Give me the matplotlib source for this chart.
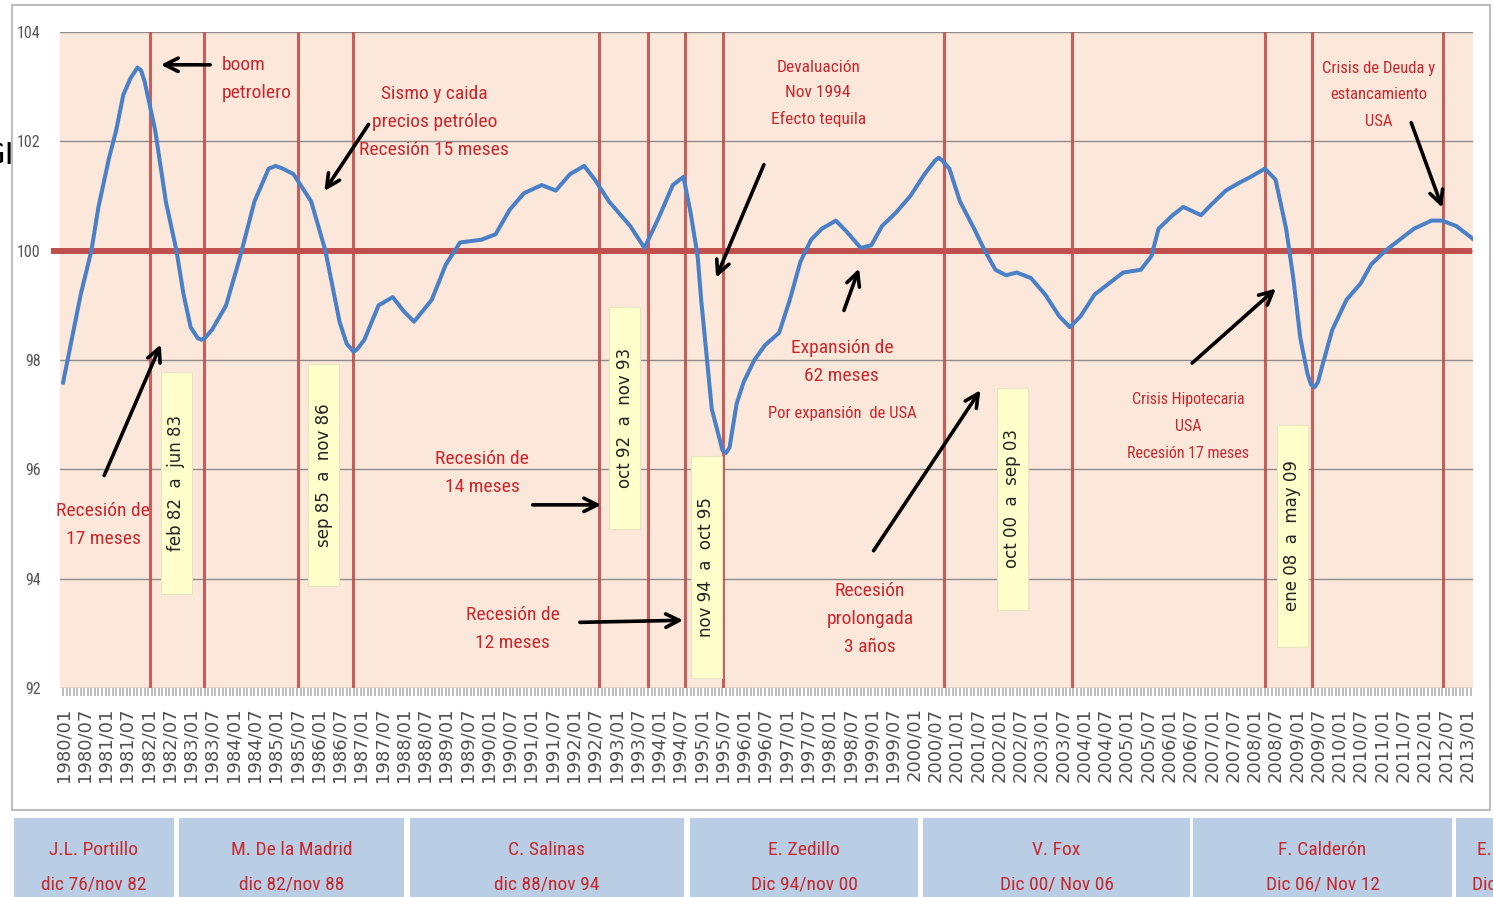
import numpy as np
import matplotlib
matplotlib.use('Agg')
import matplotlib.pyplot as plt
from matplotlib.patches import Rectangle

# Indice mensual, meses contados desde 1980/01
months = [0, 3, 5, 8, 10, 13, 15, 17, 19, 21, 22, 23, 26, 29, 32, 34, 36, 38, 39, 40,
          42, 46, 50, 54, 58, 60, 62, 65, 70, 74, 78, 80, 82, 83, 85, 89, 93, 96, 99, 104,
          108, 112, 118, 122, 126, 130, 135, 139, 143, 147, 150, 154, 160, 164, 168, 172, 175, 177, 179, 180,
          183, 185, 186, 187, 188, 190, 192, 195, 198, 202, 205, 208, 211, 214, 218, 221, 225, 228, 231, 235,
          239, 243, 246, 247, 248, 250, 253, 257, 260, 263, 266, 269, 273, 277, 281, 284, 287, 291, 295, 299,
          304, 307, 309, 313, 316, 321, 324, 328, 332, 335, 339, 342, 345, 347, 349, 351, 352, 353, 354, 355,
          358, 362, 366, 369, 373, 377, 381, 386, 389, 393, 396, 398]
values = [97.58, 98.55, 99.2, 100.0, 100.8, 101.7, 102.2, 102.85, 103.15, 103.35, 103.3, 103.1, 102.2, 100.9, 100.0, 99.2, 98.6, 98.4, 98.37, 98.4,
          98.55, 99.0, 99.9, 100.9, 101.5, 101.55, 101.5, 101.4, 100.9, 100.0, 98.7, 98.3, 98.15, 98.2, 98.37, 99.0, 99.15, 98.9, 98.7, 99.1,
          99.75, 100.15, 100.2, 100.3, 100.75, 101.05, 101.2, 101.1, 101.4, 101.55, 101.3, 100.9, 100.45, 100.05, 100.6, 101.2, 101.35, 100.7, 99.9, 99.1,
          97.1, 96.6, 96.35, 96.3, 96.4, 97.2, 97.6, 98.0, 98.27, 98.5, 99.1, 99.8, 100.2, 100.4, 100.55, 100.35, 100.05, 100.1, 100.45, 100.7,
          101.0, 101.4, 101.65, 101.7, 101.65, 101.5, 100.9, 100.4, 100.0, 99.65, 99.55, 99.6, 99.5, 99.2, 98.8, 98.6, 98.8, 99.2, 99.4, 99.6,
          99.65, 99.9, 100.4, 100.65, 100.8, 100.65, 100.85, 101.1, 101.25, 101.35, 101.5, 101.3, 100.4, 99.5, 98.4, 97.75, 97.55, 97.5, 97.6, 97.85,
          98.55, 99.1, 99.4, 99.75, 100.0, 100.2, 100.4, 100.55, 100.55, 100.45, 100.3, 100.2]

# lineas verticales (inicio y fin de recesiones), en meses desde 1980/01
cycle_lines = [24.5, 39.8, 66.3, 81.8, 151.2, 165, 175.5, 186.2, 248.5, 284.6, 339.1, 352.3, 389.3]

# periodos de recesion (cajas amarillas)
periods = ['feb 82  a  jun 83', 'sep 85  a  nov 86', 'oct 92  a  nov 93',
           'nov 94  a  oct 95', 'oct 00  a  sep 03', 'ene 08  a  may 09']
period_pos = [(31.9, 95.75), (73.6, 95.9), (158.5, 96.94), (181.4, 94.21), (267.7, 95.46), (346.7, 94.78)]

presidents = ['J.L. Portillo', 'M. De la Madrid', 'C. Salinas', 'E. Zedillo', 'V. Fox', 'F. Calderón', 'E. Peña Nieto']
terms = ['dic 76/nov 82', 'dic 82/nov 88', 'dic 88/nov 94', 'Dic 94/nov 00', 'Dic 00/ Nov 06', 'Dic 06/ Nov 12', 'Dic 12/ Nov 18']

W, H = 1493, 897
RED = '#C0504D'
TXT = '#C8282D'
NARROW = ['Roboto Condensed', 'Liberation Sans', 'DejaVu Sans']

def fx(px):
    return px / W

def fy(py):
    return 1 - py / H

fig = plt.figure(figsize=(W / 100, H / 100), dpi=100)

# marco del grafico
fig.patches.append(Rectangle((fx(12), fy(810)), fx(1490) - fx(12), fy(5) - fy(810),
                             transform=fig.transFigure, facecolor='white',
                             edgecolor='#BDBDBD', lw=1.5, zorder=-2))

ax = fig.add_axes([fx(60), fy(688), fx(1473) - fx(60), fy(32) - fy(688)])
ax.set_facecolor('#FCE8DA')
ax.set_xlim(-0.85, 397.7)
ax.set_ylim(92, 104)

ax.set_yticks(range(92, 105, 2))
ax.yaxis.grid(True, color='#8C8C8C', lw=1.0)
ax.set_axisbelow(True)
ax.tick_params(axis='y', length=0, pad=14, labelsize=11.5, labelcolor='#555555')
for lab in ax.get_yticklabels():
    lab.set_family(NARROW)

major = list(range(0, 397, 6))
ax.set_xticks(major)
ax.set_xticklabels([f"{1980 + m // 12}/{m % 12 + 1:02d}" for m in major],
                   rotation=90, fontsize=13, color='#505050')
ax.set_xticks(range(0, 398), minor=True)
ax.tick_params(axis='x', which='both', length=6, width=1.2, color='#B0B0B0', pad=8)
for s in ax.spines.values():
    s.set_visible(False)

ax.axhline(100, xmin=-0.004, xmax=0.997, color=RED, lw=4.3, clip_on=False, zorder=3)
for m in cycle_lines:
    ax.axvline(m, color=RED, lw=2.2, alpha=0.9, zorder=2)

ax.plot(months, values, color='#4A80C8', lw=2.9, solid_joinstyle='round',
        solid_capstyle='round', zorder=4)

# cajas amarillas con los periodos
bw, bh = 8.75, 4.06
for (m, v), txt in zip(period_pos, periods):
    ax.add_patch(Rectangle((m - bw / 2, v - bh / 2), bw, bh, facecolor='#FFFFCC',
                           edgecolor='#E6E6BE', lw=0.8, zorder=5))
    ax.text(m, v, txt, rotation=90, ha='center', va='center', fontsize=12,
            color='#222222', zorder=6)

def note(m, v, txt, size=14, ha='center', ls=1.7):
    ax.text(m, v, txt, ha=ha, va='center', fontsize=size, color=TXT,
            family=NARROW, linespacing=ls, zorder=6)

def arrow(tail, head):
    ax.annotate('', xy=head, xytext=tail,
                arrowprops=dict(arrowstyle='->', color='black', lw=2.6,
                                mutation_scale=24), zorder=7)

note(44.9, 103.14, 'boom\npetrolero', ha='left')
arrow((42.3, 103.4), (26.8, 103.4))
note(104.7, 102.35, 'Sismo y caida\nprecios petróleo\nRecesión 15 meses')
arrow((86.6, 102.35), (73.3, 101.05))
note(213, 102.88, 'Devaluación\nNov 1994\nEfecto tequila', size=12.5, ls=1.85)
arrow((198, 101.62), (183.9, 99.46))
note(371, 102.85, 'Crisis de Deuda y\nestancamiento\nUSA', size=12, ls=1.95)
arrow((380, 102.39), (389.3, 100.74))
note(11.3, 94.98, 'Recesión de\n17 meses')
arrow((11.3, 95.84), (27.9, 98.33))
note(118.2, 95.93, 'Recesión de\n14 meses')
arrow((131.7, 95.35), (152.6, 95.35))
note(126.9, 93.08, 'Recesión de\n12 meses')
arrow((145, 93.2), (175.7, 93.24))
note(219.7, 97.96, 'Expansión de\n62 meses')
note(219.7, 97.03, 'Por expansión  de USA', size=12)
arrow((220, 98.86), (224.8, 99.72))
note(227.6, 93.26, 'Recesión\nprolongada\n3 años')
arrow((228.2, 94.47), (259.2, 97.49))
note(317.3, 96.79, 'Crisis Hipotecaria\nUSA\nRecesión 17 meses', size=11.5, ls=2.0)
arrow((317.9, 97.91), (342.7, 99.34))

# franja de sexenios
edges = [(14, 174), (179, 404), (410, 684), (690, 918), (923, 1190), (1193, 1452), (1456, 1602)]
for (x0, x1), name, term in zip(edges, presidents, terms):
    fig.patches.append(Rectangle((fx(x0), fy(910)), fx(x1) - fx(x0), fy(818) - fy(910),
                                 transform=fig.transFigure, facecolor='#B9CDE5',
                                 edgecolor='none', zorder=-1))
    fig.text(fx((x0 + x1) / 2), fy(850), name, ha='center', va='center',
             fontsize=14, color=TXT, family=NARROW)
    fig.text(fx((x0 + x1) / 2), fy(884), term, ha='center', va='center',
             fontsize=14, color=TXT, family=NARROW)

fig.text(fx(14), fy(155), 'GI', ha='right', va='center', fontsize=22, color='black')

fig.savefig('out.png', dpi=100)
